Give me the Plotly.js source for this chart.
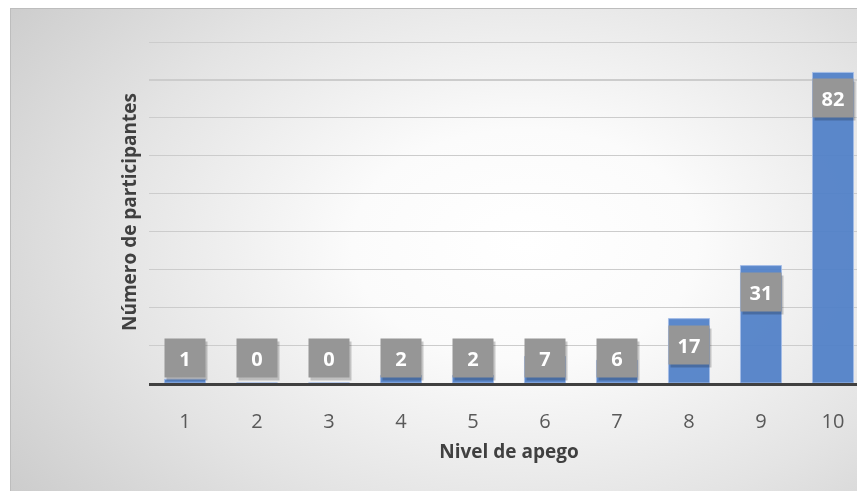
<!DOCTYPE html>
<html>
<head>
<meta charset="utf-8">
<script src="https://cdn.plot.ly/plotly-3.0.1.min.js"></script>
<style>
  html, body { margin: 0; padding: 0; background: #ffffff; width: 100%; height: 100%; overflow: hidden; }
  #frame {
    position: fixed; left: 10px; top: 8px; right: -40px; bottom: -40px;
    border-left: 1px solid #bdbdbd; border-top: 1px solid #bdbdbd;
    background: radial-gradient(ellipse 78% 88% at 58% 45%, #ffffff 0%, #fbfbfb 25%, #e4e4e4 60%, #c6c6c6 100%);
    overflow: hidden;
  }
  #chart { position: absolute; left: 0; top: 0; }
</style>
</head>
<body>
<div id="frame"><div id="chart"></div></div>
<script>
const categories = ['1', '2', '3', '4', '5', '6', '7', '8', '9', '10'];
const participants = [1, 0, 0, 2, 2, 7, 6, 17, 31, 82];
const xTitle = 'Nivel de apego';
const yTitle = 'Número de participantes';

const FONT = '"Open Sans", "Noto Sans", sans-serif';
const labelFloor = 13.5;

const annotations = [];
categories.forEach((c, i) => {
  const v = participants[i];
  const yPos = Math.max(v, labelFloor);
  annotations.push({
    x: i, y: yPos, xref: 'x', yref: 'y', yanchor: 'top', yshift: -9, xshift: 2,
    text: ' ', showarrow: false, width: 38, height: 36, borderpad: 1,
    bgcolor: 'rgba(0,0,0,0.2)'
  });
  annotations.push({
    x: i, y: yPos, xref: 'x', yref: 'y', yanchor: 'top', yshift: -6,
    text: '<b>' + v + '</b>', showarrow: false, width: 38, height: 36, borderpad: 1,
    bgcolor: '#969696', font: {family: FONT, size: 20, color: '#ffffff'}
  });
});

const trace = {
  type: 'bar', x: categories, y: participants, width: 0.57,
  marker: {color: '#5080c8', opacity: 0.93, line: {color: '#9fb9e6', width: 1}},
  hoverinfo: 'none'
};

const layout = {
  width: 880, height: 500,
  margin: {l: 138, r: 22, t: 32, b: 126},
  paper_bgcolor: 'rgba(0,0,0,0)', plot_bgcolor: 'rgba(0,0,0,0)',
  showlegend: false,
  font: {family: FONT},
  xaxis: {
    type: 'category', range: [-0.5, 9.5],
    showgrid: false, zeroline: false,
    showline: true, linecolor: '#404040', linewidth: 3,
    ticks: '', ticklabelstandoff: 18,
    tickfont: {family: FONT, size: 20, color: '#595959'},
    title: {text: '<b>' + xTitle + '</b>', standoff: 12, font: {family: FONT, size: 19, color: '#404040'}}
  },
  yaxis: {
    range: [0, 90.3], dtick: 10, showticklabels: false,
    showgrid: true, gridcolor: '#cccccc', gridwidth: 1.2,
    zeroline: false, showline: false, ticks: '',
    title: {text: '<b>' + yTitle + '</b>', standoff: 6, font: {family: FONT, size: 19, color: '#404040'}}
  },
  annotations: annotations
};

Plotly.newPlot('chart', [trace], layout, {displayModeBar: false, staticPlot: true});
</script>
</body>
</html>
